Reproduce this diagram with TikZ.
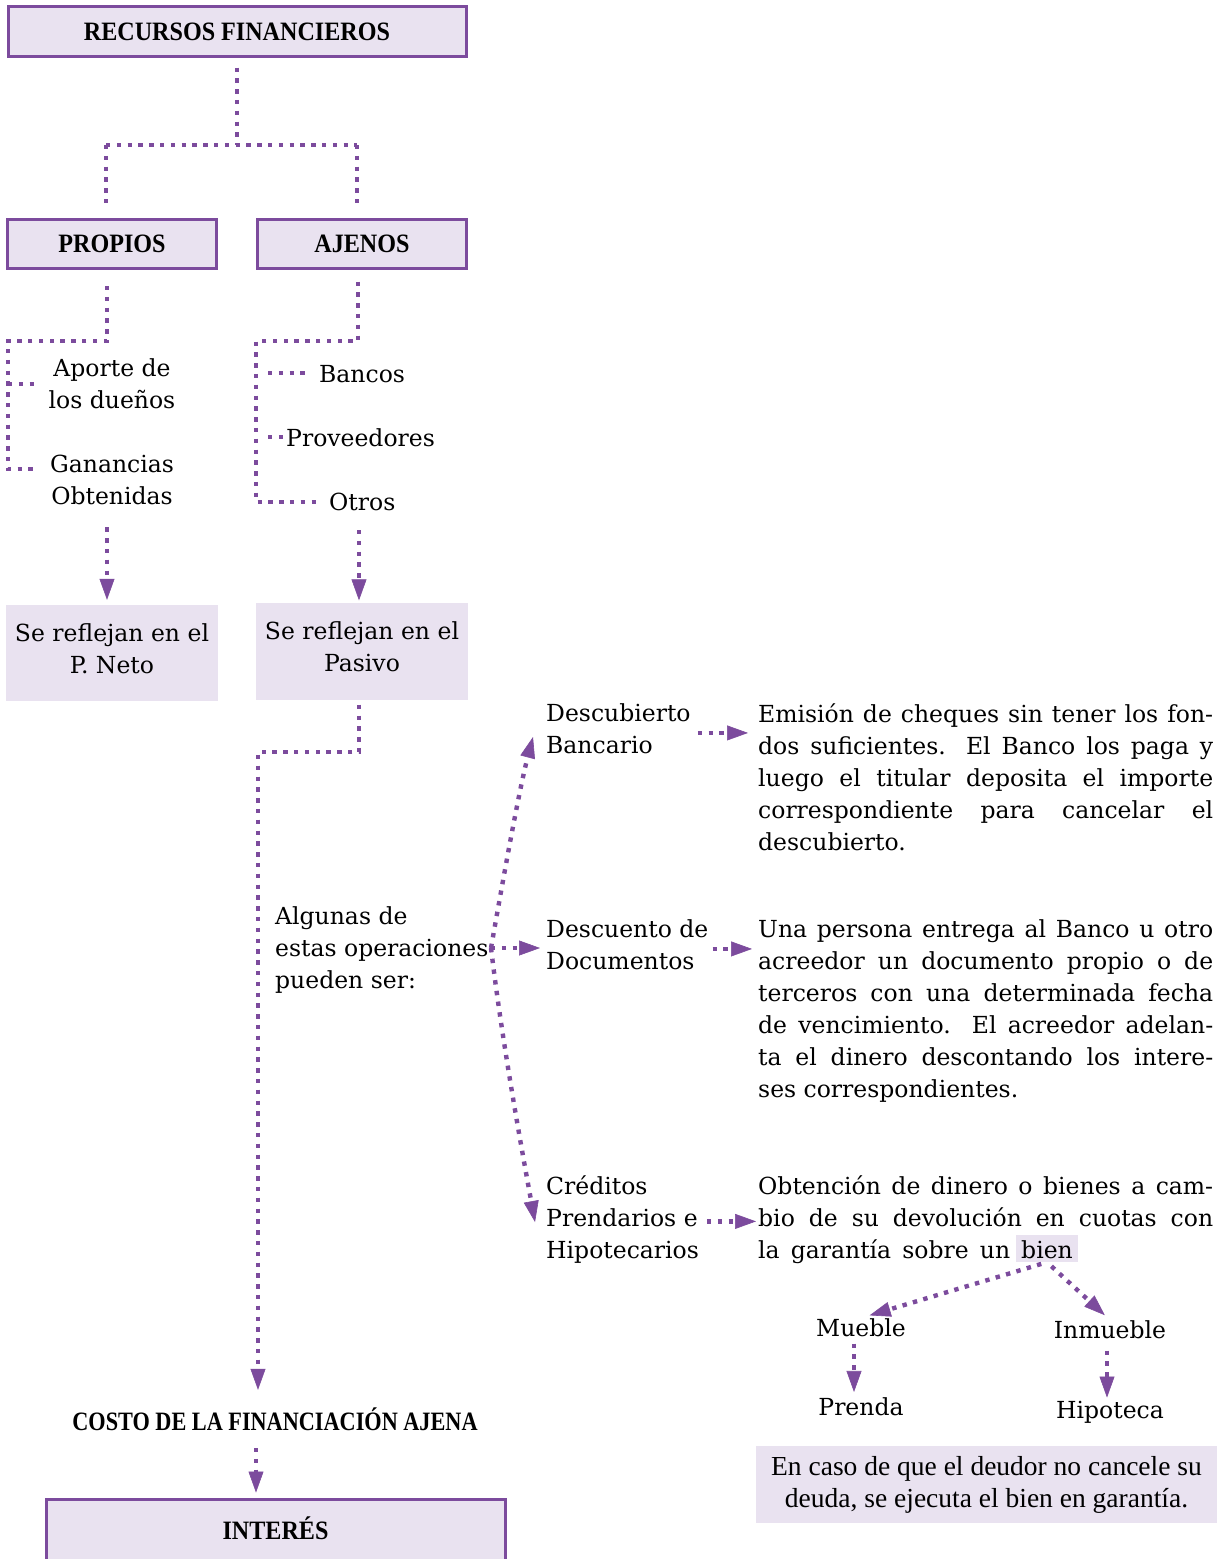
\documentclass[tikz,border=0pt]{standalone}
\usepackage{fontspec}
\setmainfont{DejaVu Serif}
\newfontfamily\ttlfont[FakeStretch=0.91]{Liberation Serif}
\newfontfamily\costofont[FakeStretch=0.84]{Liberation Serif}
\newfontfamily\notefont{Liberation Serif}
\usetikzlibrary{arrows.meta}
\definecolor{pur}{RGB}{124,75,157}
\definecolor{lav}{RGB}{233,226,240}
\newcommand\bodyf{\fontsize{23.5}{32}\selectfont}
\newcommand\ttlf{\ttlfont\bfseries\fontsize{26.5}{30}\selectfont}
\newcommand\costof{\costofont\bfseries\fontsize{26.5}{30}\selectfont}
\newcommand\notef{\notefont\fontsize{27.5}{32}\selectfont}
\newcommand\jl[1]{\makebox[455pt][s]{#1}}
\begin{document}
\begin{tikzpicture}[x=1pt,y=-1pt,
 titlebox/.style={draw=pur, line width=3pt, fill=lav, font=\ttlf, text height=17.5pt, text depth=0pt, inner sep=0pt},
 fillbox/.style={fill=lav, font=\bodyf, align=center, inner sep=0pt, execute at begin node=\strut, execute at end node=\strut},
 txt/.style={font=\bodyf, align=left, inner sep=0pt, execute at begin node=\strut, execute at end node=\strut},
 txtc/.style={txt, align=center},
 lbl/.style={font=\bodyf, inner sep=0pt},
 dotl/.style={draw=pur, line width=4.4pt, dash pattern=on 4.4pt off 6.4pt},
 dotarr/.style={dotl, -{Triangle[length=21pt,width=15pt,line width=0.6pt]}},
]
\fill[white] (0,0) rectangle (1227,1559);
\useasboundingbox (0,0) rectangle (1227,1559);

% boxes and texts
\node[titlebox, minimum width=458pt, minimum height=50pt] (rec) at (237,31.5) {RECURSOS FINANCIEROS};
\node[titlebox, minimum width=209pt, minimum height=49pt] (propios) at (112,244) {PROPIOS};
\node[titlebox, minimum width=209pt, minimum height=49pt] (ajenos) at (362,244) {AJENOS};
\node[txtc] (aporte) at (112,388.6) {Aporte de\\los dueños};
\node[txtc] (ganancias) at (112,484.6) {Ganancias\\Obtenidas};
\node[lbl, anchor=base west] (bancos) at (319,382) {Bancos};
\node[lbl, anchor=base west] (prov) at (286,446) {Proveedores};
\node[lbl, anchor=base west] (otros) at (329,510) {Otros};
\node[fillbox, minimum width=212pt, minimum height=96pt] (neto) at (112,653) {Se reflejan en el\\P. Neto};
\node[fillbox, minimum width=212pt, minimum height=97pt] (pasivo) at (362,651) {Se reflejan en el\\Pasivo};
\node[txt, anchor=north west] (algunas) at (275,906) {Algunas de\\estas operaciones\\pueden ser:};
\node[txt, anchor=north west] (descub) at (546,703) {Descubierto\\Bancario};
\node[txt, anchor=north west] (descuento) at (546,919) {Descuento de\\Documentos};
\node[txt, anchor=north west] (creditos) at (546,1175) {Créditos\\Prendarios e\\Hipotecarios};
\node[txt, anchor=north west] (p1) at (758,703) {\jl{Emisión de cheques sin tener los fon-}\\\jl{dos suficientes. El Banco los paga y}\\\jl{luego el titular deposita el importe}\\\jl{correspondiente para cancelar el}\\descubierto.};
\node[txt, anchor=north west] (p2) at (758,919) {\jl{Una persona entrega al Banco u otro}\\\jl{acreedor un documento propio o de}\\\jl{terceros con una determinada fecha}\\\jl{de vencimiento. El acreedor adelan-}\\\jl{ta el dinero descontando los intere-}\\ses correspondientes.};
\node[txt, anchor=north west] (p3) at (758,1175) {\jl{Obtención de dinero o bienes a cam-}\\\jl{bio de su devolución en cuotas con}};
\node[lbl, anchor=base west] (p3c) at (758,1258) {\makebox[252pt][s]{la garantía sobre un}};
\node[lbl, fill=lav, anchor=base west, inner xsep=5pt, inner ysep=4pt, text height=19pt, text depth=0pt] (bien) at (1016,1258) {bien};
\node[lbl, anchor=base] (mueble) at (861,1336) {Mueble};
\node[lbl, anchor=base] (inmueble) at (1110,1338) {Inmueble};
\node[lbl, anchor=base] (prenda) at (861,1415) {Prenda};
\node[lbl, anchor=base] (hipoteca) at (1110,1418) {Hipoteca};
\node[fill=lav, minimum width=461pt, minimum height=77pt, inner sep=0pt, font=\notef, align=center] (nota) at (986.5,1484.5) {En caso de que el deudor no cancele su\\deuda, se ejecuta el bien en garantía.};
\node[lbl, font=\costof, anchor=base, text height=18pt, text depth=0pt] (costo) at (275,1430) {COSTO DE LA FINANCIACIÓN AJENA};
\node[titlebox, minimum width=459pt, minimum height=64pt] (interes) at (275.5,1531) {INTERÉS};

% connectors
\coordinate (jL) at (106,145);
\coordinate (jR) at (357,145);
\draw[dotl, shorten <=9.5pt] (rec.south) -- (rec.south |- jL);
\draw[dotl] (jL) -- (jR);
\draw[dotl, shorten >=11.5pt] (jL) -- (jL |- propios.north);
\draw[dotl, shorten >=11.5pt] (jR) -- (jR |- ajenos.north);

\coordinate (pA) at (107,341);
\coordinate (pB) at (8,341);
\coordinate (pC) at (8,469);
\coordinate (pD) at (8,384);
\draw[dotl, shorten <=16pt, shorten >=13pt] (propios.south -| pA) -- (pA) -- (pB) -- (pC) -- (pC -| ganancias.west);
\draw[dotl, shorten >=10pt] (pD) -- (pD -| aporte.west);

\coordinate (aA) at (358,341);
\coordinate (aB) at (256,341);
\coordinate (aC) at (256,502);
\coordinate (aD) at (256,373);
\coordinate (aE) at (256,437);
\draw[dotl, shorten <=11.5pt, shorten >=13pt] (ajenos.south -| aA) -- (aA) -- (aB) -- (aC) -- (aC -| otros.west);
\draw[dotl, shorten <=12pt, shorten >=11pt] (aD) -- (aD -| bancos.west);
\draw[dotl, shorten <=12pt, shorten >=3pt] (aE) -- (aE -| prov.west);

\draw[dotarr, shorten <=13pt, shorten >=5pt] ([xshift=-5pt]ganancias.south) -- ([xshift=-5pt]neto.north);
\coordinate (oS) at (359,530);
\draw[dotarr, shorten >=2pt] (oS) -- (oS |- pasivo.north);

\coordinate (q1) at (359,752);
\coordinate (q2) at (258,752);
\draw[dotarr, shorten <=5pt, shorten >=22pt] (pasivo.south -| q1) -- (q1) -- (q2) -- (q2 |- costo.north);
\coordinate (cS) at (256,1448);
\draw[dotarr, shorten >=5pt] (cS) -- (cS |- interes.north);

\coordinate (fan) at (491,948);
\coordinate (tUp) at (533,737);
\coordinate (tDn) at (535,1222);
\draw[dotarr] (fan) .. controls (503,880) and (519,790) .. (tUp);
\draw[dotarr] (fan) .. controls (502,1040) and (520,1140) .. (tDn);
\draw[dotarr, shorten >=6pt] (fan) -- (fan -| descuento.west);

\draw[dotarr, shorten <=7pt, shorten >=10pt] (descub.east) -- (descub.east -| p1.west);
\draw[dotarr, shorten <=4pt, shorten >=6pt] (descuento.east) -- (descuento.east -| p2.west);
\draw[dotarr, shorten <=8pt, shorten >=2pt] (creditos.east) -- (creditos.east -| p3.west);

\draw[dotarr, shorten <=6pt, shorten >=9pt] (bien.south) -- (mueble.north);
\draw[dotarr, shorten <=6pt, shorten >=7pt] (bien.south) -- (inmueble.north);
\draw[dotarr, shorten <=7pt, shorten >=5pt] ([xshift=-7pt]mueble.south) -- ([xshift=-7pt]prenda.north);
\draw[dotarr, shorten <=12pt, shorten >=3pt] ([xshift=-3pt]inmueble.south) -- ([xshift=-3pt]hipoteca.north);
\end{tikzpicture}
\end{document}
